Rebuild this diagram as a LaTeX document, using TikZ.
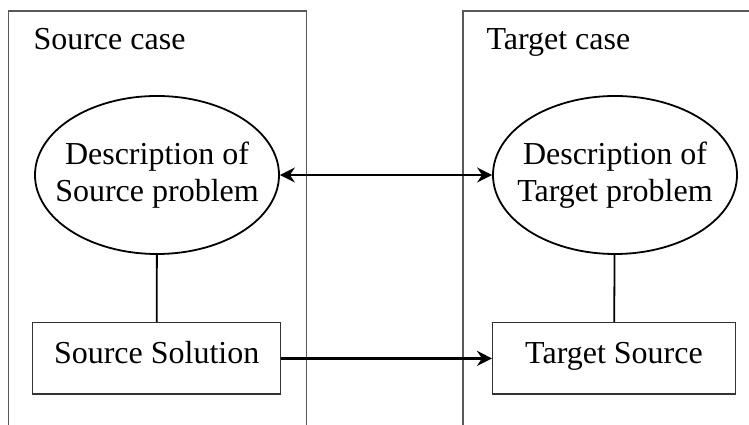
\documentclass[tikz,border=0pt]{standalone}
\usepackage{fontspec}
\setmainfont{Liberation Serif}
\usetikzlibrary{shapes.geometric,arrows.meta}
\tikzstyle{problem}=[ellipse, draw, line width=1.8pt, inner xsep=-30pt, inner ysep=0pt, minimum width=244pt, minimum height=158pt, align=center]
\tikzstyle{solution}=[rectangle, draw=black!80, line width=1.4pt, minimum width=248pt, minimum height=71.5pt, text height=22pt, text depth=12pt]
\tikzstyle{panel}=[draw=black!65, line width=1.4pt]
\newcommand{\problem}{\node[problem]}
\newcommand{\solution}{\node[solution]}

\begin{document}
\begin{tikzpicture}[x=1pt, y=1pt, font=\fontsize{32}{37}\selectfont,
    >={Stealth[length=15pt, width=15pt, inset=5pt]}]
    \useasboundingbox (0,0) rectangle (749,425);
    % the two cases, open at the bottom
    \draw[panel] (8.5,-5) |- (306.5,414) -- (306.5,-5);
    \draw[panel] (463,-5) |- (755,414);
    \node[anchor=base west] (srccase) at (30,375) {Source case};
    \node[anchor=base west] (tgtcase) at (483,375) {Target case};
    % problems and solutions
    \problem (srcprob) at (157,250) {Description of\\Source problem};
    \problem (tgtprob) at (615,250) {Description of\\Target problem};
    \solution (srcsol) at (156.7,66.6) {Source Solution};
    \solution[minimum width=242.6pt] (tgtsol) at (614,66.6) {Target Source};
    \path[line width=1.8pt]
        (srcprob) edge (srcsol)
        (tgtprob) edge (tgtsol)
    ;
    \path[line width=2.6pt]
        (srcprob) edge[<->] (tgtprob)
        (srcsol) edge[->] (tgtsol)
    ;
\end{tikzpicture}
\end{document}
